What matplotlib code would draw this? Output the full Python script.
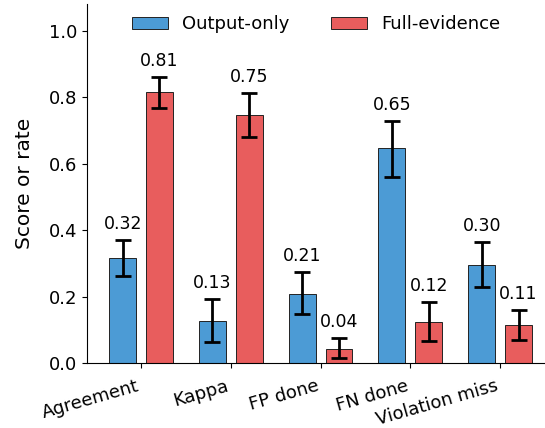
import numpy as np
import matplotlib
matplotlib.use("Agg")
import matplotlib.pyplot as plt

categories = ["Agreement", "Kappa", "FP done", "FN done", "Violation miss"]
series_names = ["Output-only", "Full-evidence"]

output_only = [0.316, 0.127, 0.209, 0.648, 0.296]
output_lo = [0.262, 0.064, 0.146, 0.560, 0.229]
output_hi = [0.369, 0.192, 0.274, 0.730, 0.365]
output_labels = ["0.32", "0.13", "0.21", "0.65", "0.30"]

full_evidence = [0.815, 0.747, 0.041, 0.122, 0.113]
full_lo = [0.767, 0.681, 0.014, 0.067, 0.069]
full_hi = [0.860, 0.812, 0.075, 0.183, 0.159]
full_labels = ["0.81", "0.75", "0.04", "0.12", "0.11"]

colors = ["#4c9bd5", "#e85d5d"]

fig, ax = plt.subplots(figsize=(5.45, 4.28), dpi=100)
x = np.arange(len(categories))
width = 0.3
offset = 0.205

groups = [
    (output_only, output_lo, output_hi, output_labels, -offset),
    (full_evidence, full_lo, full_hi, full_labels, offset),
]
for i, (vals, lo, hi, labels, off) in enumerate(groups):
    vals = np.array(vals)
    err = [vals - np.array(lo), np.array(hi) - vals]
    ax.bar(x + off, vals, width, color=colors[i], edgecolor="#222222",
           linewidth=0.7, label=series_names[i], zorder=2)
    ax.errorbar(x + off, vals, yerr=err, fmt="none", ecolor="black",
                elinewidth=2, capsize=6, capthick=2, zorder=3)
    for xi, top, lab in zip(x + off, hi, labels):
        ax.annotate(lab, (xi, top), xytext=(0, 5), textcoords="offset points",
                    ha="center", va="bottom", fontsize=12.5)

ax.set_xlim(-0.6, 4.5)
ax.set_ylim(0, 1.08)
ax.set_yticks([0.0, 0.2, 0.4, 0.6, 0.8, 1.0])
ax.tick_params(labelsize=13)
ax.tick_params(axis="x", pad=6.5)
ax.set_xticks(x)
ax.set_xticklabels(categories, rotation=16, ha="right", fontsize=13)
ax.set_ylabel("Score or rate", fontsize=14.5, labelpad=11)
ax.spines["top"].set_visible(False)
ax.spines["right"].set_visible(False)
ax.legend(loc="upper center", ncol=2, frameon=False, fontsize=13,
          bbox_to_anchor=(0.5, 1.015), columnspacing=2.3)

fig.subplots_adjust(left=0.16, right=1.0, top=0.99, bottom=0.152)
fig.savefig("out.png", dpi=100)
